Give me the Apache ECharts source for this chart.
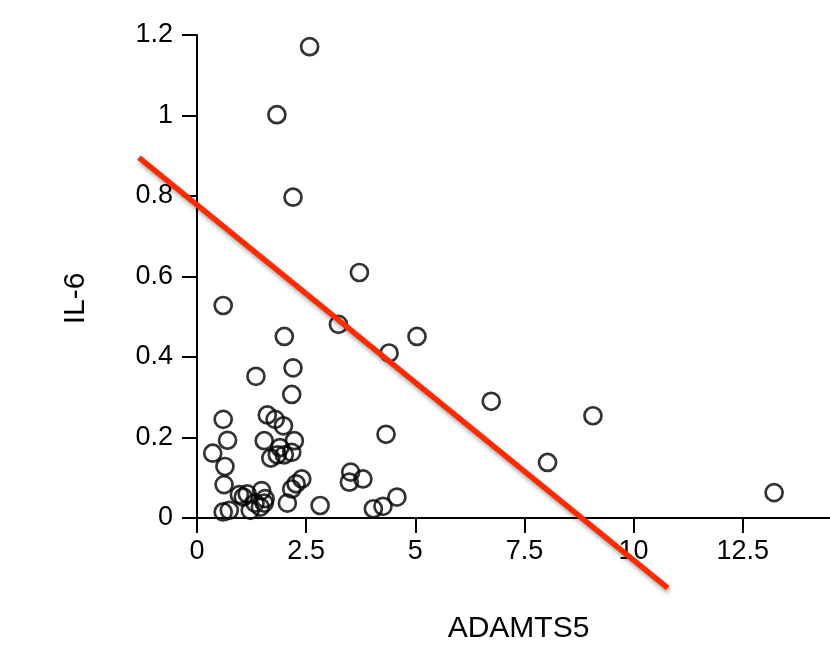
<!DOCTYPE html>
<html>
<head>
<meta charset="utf-8">
<script src="https://cdn.jsdelivr.net/npm/echarts@6/dist/echarts.min.js"></script>
<style>
html,body{margin:0;padding:0;background:#fff;}
#chart{width:830px;height:649px;}
</style>
</head>
<body>
<div id="chart"></div>
<script>
// ADAMTS5 (x) and IL-6 (y) values
var adamts5 = [2.58,1.83,2.20,3.72,0.60,3.24,2.00,5.04,4.40,2.20,1.35,2.17,0.60,1.61,1.79,1.98,0.70,1.54,2.23,0.36,1.90,2.17,1.69,1.84,2.00,4.33,0.64,0.62,0.97,1.15,1.48,1.06,1.56,1.33,1.54,1.45,1.22,0.60,0.74,2.07,2.17,2.27,2.40,2.82,3.52,3.49,3.80,4.04,4.26,4.58,6.74,9.07,8.03,13.22];
var il6 = [1.171,1.002,0.797,0.610,0.528,0.481,0.451,0.451,0.410,0.373,0.352,0.307,0.245,0.256,0.245,0.229,0.193,0.192,0.192,0.161,0.175,0.163,0.149,0.157,0.157,0.208,0.128,0.083,0.058,0.060,0.068,0.052,0.048,0.037,0.037,0.027,0.019,0.015,0.019,0.037,0.072,0.085,0.097,0.031,0.114,0.089,0.097,0.023,0.029,0.052,0.290,0.254,0.138,0.063];
// regression line end points
var fitX = [-1.33, 10.78];
var fitY = [0.897, -0.165];
// tick values
var xTicks = [0, 2.5, 5, 7.5, 10, 12.5];
var yTicks = [0, 0.2, 0.4, 0.6, 0.8, 1, 1.2];

var points = adamts5.map(function(x, i){ return [x, il6[i]]; });
var fitLine = fitX.map(function(x, i){ return [x, fitY[i]]; });

// layout constants (pixels)
var gLeft = 197, gTop = 35, gHeight = 486, W = 830;
var xMax = 14.5, yMax = 1.2;
var pxX = (W - gLeft) / xMax, pxY = gHeight / yMax;
// wider hidden frame for the regression line so it can run past the axes
var x2Min = -2, y2Min = -0.3;

var chart = echarts.init(document.getElementById('chart'), null, {renderer:'canvas'});
var font = 'Liberation Sans, Arial, Helvetica, sans-serif';
chart.setOption({
  animation: false,
  backgroundColor: '#ffffff',
  grid: [
    {left: gLeft, top: gTop, right: 0, height: gHeight, containLabel: false},
    {left: gLeft + x2Min * pxX, top: gTop, right: 0, height: gHeight - y2Min * pxY, containLabel: false}
  ],
  xAxis: [{
    type: 'value', min: 0, max: xMax, interval: 2.5, gridIndex: 0,
    name: 'ADAMTS5', nameLocation: 'middle', nameGap: 96,
    nameTextStyle: {fontFamily: font, fontSize: 30, color: '#000', padding: [0, 0, 0, 10]},
    axisLine: {show: true, onZero: false, lineStyle: {color: '#000', width: 2}},
    axisTick: {show: true, length: 15, inside: false, customValues: xTicks, lineStyle: {color: '#000', width: 2}},
    axisLabel: {margin: 20, fontFamily: font, fontSize: 27, color: '#000', customValues: xTicks,
      formatter: function(v){ return xTicks.indexOf(v) >= 0 ? String(v) : ''; }},
    splitLine: {show: false}
  }, {
    type: 'value', min: x2Min, max: xMax, gridIndex: 1, show: false
  }],
  yAxis: [{
    type: 'value', min: 0, max: yMax, interval: 0.2, gridIndex: 0,
    name: 'IL-6', nameLocation: 'middle', nameGap: 106, nameRotate: 90,
    nameTextStyle: {fontFamily: font, fontSize: 30, color: '#000', padding: [0, 44, 0, 0]},
    axisLine: {show: true, onZero: false, lineStyle: {color: '#000', width: 2}},
    axisTick: {show: true, length: 15, inside: false, lineStyle: {color: '#000', width: 2}},
    axisLabel: {margin: 24, fontFamily: font, fontSize: 27, color: '#000',
      formatter: function(v){ return String(Math.round(v * 10) / 10); }},
    splitLine: {show: false}
  }, {
    type: 'value', min: y2Min, max: yMax, gridIndex: 1, show: false
  }],
  series: [
    {
      type: 'scatter', data: points, symbol: 'circle', symbolSize: 17,
      xAxisIndex: 0, yAxisIndex: 0,
      itemStyle: {color: 'rgba(255,255,255,0)', borderColor: '#000', borderWidth: 2.7},
      z: 2
    },
    {
      type: 'line', data: fitLine, symbol: 'none', clip: false, silent: true,
      xAxisIndex: 1, yAxisIndex: 1,
      lineStyle: {color: '#ff2a00', width: 5.5, shadowColor: 'rgba(0,0,0,0.35)', shadowBlur: 4, shadowOffsetX: 1, shadowOffsetY: 3},
      z: 5
    }
  ]
});
</script>
</body>
</html>
